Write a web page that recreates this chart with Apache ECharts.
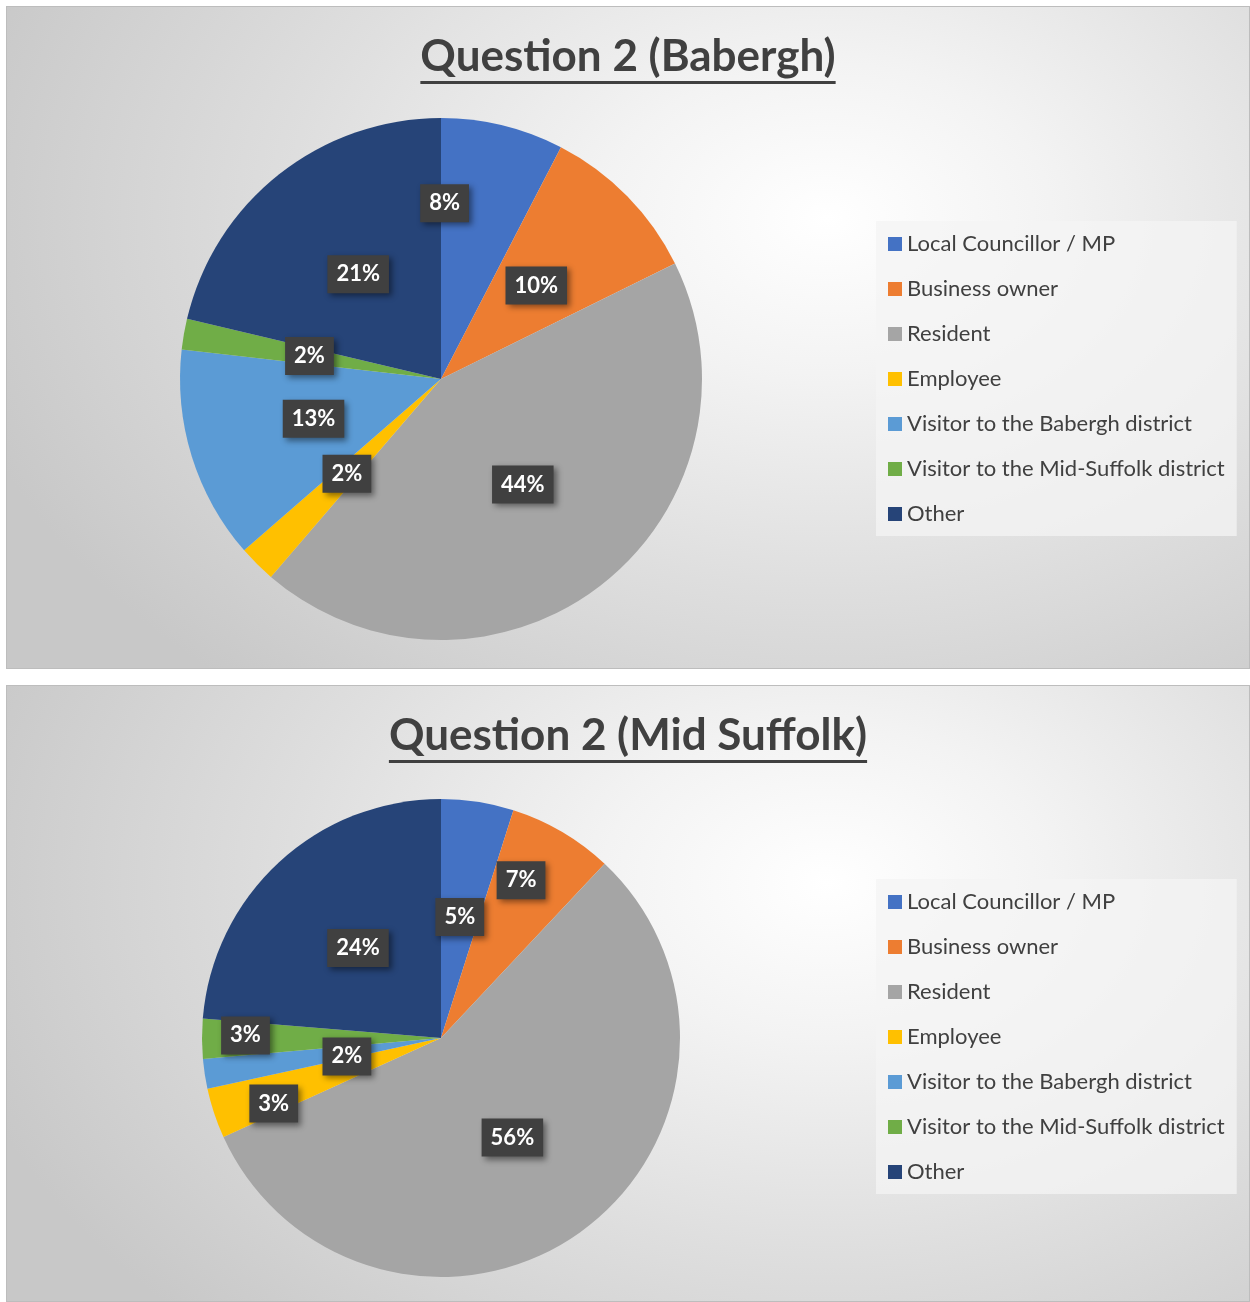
<!DOCTYPE html>
<html>
<head>
<meta charset="utf-8">
<script src="https://cdn.jsdelivr.net/npm/echarts@6/dist/echarts.min.js"></script>
<style>
  html, body { margin: 0; padding: 0; background: #ffffff; }
  .panel {
    position: absolute;
    left: 6px;
    width: 1244px;
    box-sizing: border-box;
    border: 1px solid #bdbdbd;
    background: radial-gradient(ellipse 900px 620px at 66% 32%, #ffffff 0%, #f3f3f3 25%, #dedede 60%, #c8c8c8 100%);
  }
  #chart1 { top: 6px; height: 663px; }
  #chart2 { top: 685px; height: 617px; }
</style>
</head>
<body>
<div class="panel" id="chart1"></div>
<div class="panel" id="chart2"></div>
<script>
// categories + values (percent of responses)
const categories = [
  "Local Councillor / MP",
  "Business owner",
  "Resident",
  "Employee",
  "Visitor to the Babergh district",
  "Visitor to the Mid-Suffolk district",
  "Other"
];
const baberghValues = [7.6, 10.1, 43.6, 2.3, 13.2, 1.9, 21.3];
const midSuffolkValues = [4.9, 7.1, 56.2, 3.4, 2.0, 2.7, 23.7];

const colors = ["#4472C4", "#ED7D31", "#A5A5A5", "#FFC000", "#5B9BD5", "#70AD47", "#264478"];
const FONT = "Lato, 'Open Sans', sans-serif";
const TITLE_SIZE = 44;

// width of the title text, for the underline
function textWidth(str, font) {
  const ctx = document.createElement("canvas").getContext("2d");
  ctx.font = font;
  return ctx.measureText(str).width;
}

function drawPie(domId, title, values, cfg) {
  const chart = echarts.init(document.getElementById(domId), null, { renderer: "canvas" });
  const titleFont = "bold " + TITLE_SIZE + "px " + FONT;
  const titleW = textWidth(title, titleFont);
  const seriesData = values.map((v, i) => {
    const item = { name: categories[i], value: v };
    // Excel nudges some labels away from the slice centre
    if (cfg.nudge[i]) item.label = { offset: cfg.nudge[i] };
    return item;
  });
  const option = {
    animation: false,
    color: colors,
    graphic: [
      {
        type: "text",
        left: "center",
        top: cfg.titleTop,
        style: {
          text: title,
          font: titleFont,
          fill: "#404040"
        }
      },
      {
        type: "rect",
        shape: { x: 0, y: 0, width: titleW, height: 3 },
        left: "center",
        top: cfg.titleTop + 46,
        style: { fill: "#404040" }
      }
    ],
    legend: {
      orient: "vertical",
      left: 869,
      top: cfg.legendTop,
      backgroundColor: "rgba(244,244,244,0.75)",
      padding: [12, 12, 11, 12],
      itemWidth: 14,
      itemHeight: 14,
      itemGap: 23,
      icon: "rect",
      textStyle: { fontFamily: FONT, fontSize: 22, color: "#404040" },
      data: categories
    },
    series: [
      {
        type: "pie",
        center: cfg.center,
        radius: cfg.radius,
        startAngle: 90,
        clockwise: true,
        avoidLabelOverlap: false,
        data: seriesData,
        itemStyle: { borderWidth: 0 },
        label: {
          show: true,
          position: "inside",
          formatter: (p) => Math.round(p.percent) + "%",
          fontFamily: FONT,
          fontWeight: "bold",
          fontSize: 22,
          color: "#ffffff",
          backgroundColor: "#404040",
          padding: [9, 9, 7, 9],
          shadowColor: "rgba(0,0,0,0.45)",
          shadowBlur: 6,
          shadowOffsetX: 3,
          shadowOffsetY: 3
        },
        labelLine: { show: false },
        emphasis: { disabled: true }
      }
    ]
  };
  chart.setOption(option);
}

drawPie("chart1", "Question 2 (Babergh)", baberghValues, {
  center: [434, 372],
  radius: 261,
  titleTop: 28,
  legendTop: 214,
  nudge: { 0: [-28, -46] }
});

drawPie("chart2", "Question 2 (Mid Suffolk)", midSuffolkValues, {
  center: [434, 352],
  radius: 239,
  titleTop: 28,
  legendTop: 193,
  nudge: { 1: [18, -52], 3: [-51, 27], 4: [27, 0], 5: [-73, -3] }
});
</script>
</body>
</html>
